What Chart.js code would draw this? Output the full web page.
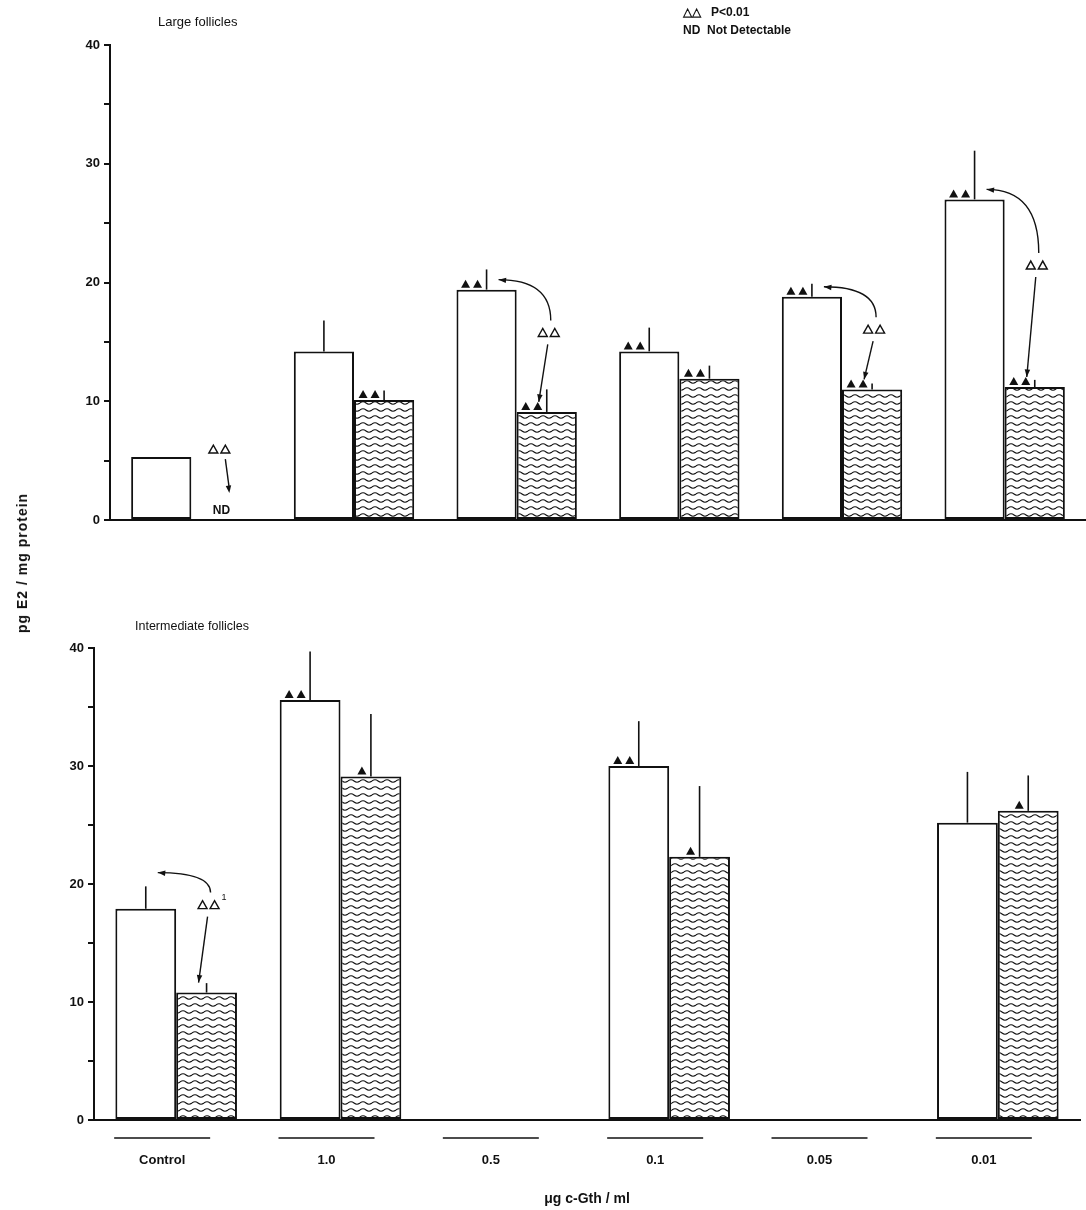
<!DOCTYPE html>
<html>
<head>
<meta charset="utf-8">
<script src="https://cdn.jsdelivr.net/npm/chart.js@4.4.1/dist/chart.umd.min.js"></script>
<style>
body{margin:0;background:#fff;width:1086px;height:1210px;position:relative;overflow:hidden;font-family:"Liberation Sans",Arial,sans-serif;color:#111}
.txt{position:absolute;white-space:nowrap}
#largeChart{position:absolute;left:0;top:0}
#interChart{position:absolute;left:0;top:560px}
#ytitle{position:absolute;left:22px;top:563px;transform:translate(-50%,-50%) rotate(-90deg);font-size:14px;font-weight:bold;letter-spacing:1px;white-space:nowrap}
</style>
</head>
<body>
<canvas id="largeChart" width="1086" height="545"></canvas>
<canvas id="interChart" width="1086" height="650"></canvas>
<div class="txt" style="left:158px;top:14px;font-size:13px">Large follicles</div>
<div class="txt" style="left:135px;top:619px;font-size:12.5px">Intermediate follicles</div>
<div class="txt" style="left:683px;top:5px;font-size:12px;font-weight:bold">△△&nbsp;&nbsp;&nbsp;P&lt;0.01</div>
<div class="txt" style="left:683px;top:23px;font-size:12px;font-weight:bold">ND&nbsp;&nbsp;Not Detectable</div>
<div id="ytitle">pg E2 / mg protein</div>
<script>
const categories=["Control","1.0","0.5","0.1","0.05","0.01"]
const yTicks=[0,10,20,30,40]

// large follicles (open bars / hatched bars, value and upper SE)
const largeOpen=[5.3,14.2,19.4,14.2,18.8,27.0]
const largeOpenSE=[0,2.6,1.7,2.0,1.1,4.1]
const largeHatched=[null,10.1,9.1,11.9,11.0,11.2]
const largeHatchedSE=[0,0.8,1.9,1.1,0.5,0.6]
const largeOpenMarks=["","","▲▲","▲▲","▲▲","▲▲"]
const largeHatchedMarks=["","▲▲","▲▲","▲▲","▲▲","▲▲"]
// "." = open/hatched compared with P<0.01, other text = footnote
const largeCompare=[".","",".","",".","."]

// intermediate follicles
const interOpen=[17.9,35.6,null,30.0,null,25.2]
const interOpenSE=[1.9,4.1,0,3.8,0,4.3]
const interHatched=[10.8,29.1,null,22.3,null,26.2]
const interHatchedSE=[0.8,5.3,0,6.0,0,3.0]
const interOpenMarks=["","▲▲","","▲▲","",""]
const interHatchedMarks=["","▲","","▲","","▲"]
const interCompare=["1","","","","",""]

const ink="#111"

function wavePattern(){
const p=document.createElement("canvas")
p.width=12;p.height=7
const g=p.getContext("2d")
g.fillStyle="#fff";g.fillRect(0,0,12,7)
g.strokeStyle=ink;g.lineWidth=1.1
g.beginPath()
g.moveTo(0,4)
g.quadraticCurveTo(3,1.5,6,4)
g.quadraticCurveTo(9,6.5,12,4)
g.stroke()
return g.createPattern(p,"repeat")
}

function tri(c,x,y,filled){
c.beginPath()
c.moveTo(x-4.5,y)
c.lineTo(x+4.5,y)
c.lineTo(x,y-8)
c.closePath()
if(filled){c.fill()}else{c.lineWidth=1.4;c.stroke()}
}

function arrowHead(c,x1,y1,x2,y2){
const a=Math.atan2(y2-y1,x2-x1)
c.beginPath()
c.moveTo(x2,y2)
c.lineTo(x2-8*Math.cos(a-0.35),y2-8*Math.sin(a-0.35))
c.lineTo(x2-8*Math.cos(a+0.35),y2-8*Math.sin(a+0.35))
c.closePath()
c.fill()
}

const marksPlugin={
id:"marks",
afterDatasetsDraw(chart,args,o){
const c=chart.ctx
const y=chart.scales.y
const openEls=chart.getDatasetMeta(0).data
c.save()
c.strokeStyle=ink
c.fillStyle=ink

categories.forEach((cat,i)=>{
const ox=openEls[i].x
const w=openEls[i].width
const hx=ox+w
const bars=[[ox,o.open[i],o.openSE[i],o.openMarks[i]],[hx,o.hatched[i],o.hatchedSE[i],o.hatchedMarks[i]]]

bars.forEach(b=>{
const [x,v,se,mk]=b
if(v==null)return
const top=y.getPixelForValue(v)
if(se>0){
c.lineWidth=1.6
c.beginPath();c.moveTo(x,top);c.lineTo(x,y.getPixelForValue(v+se));c.stroke()
}
const n=[...mk].length
for(let k=0;k<n;k++){
tri(c,x-9-k*12,top-2,true)
}
})

if(!o.compare[i])return
const base=y.getPixelForValue(0)
const oTop=y.getPixelForValue(o.open[i])
if(o.hatched[i]==null){
// not detectable
const tx=ox+w/2+22, ty=oTop-4
tri(c,tx,ty,false);tri(c,tx+12,ty,false)
c.lineWidth=1.4
c.beginPath();c.moveTo(tx+12,ty+6);c.lineTo(tx+16,ty+36);c.stroke()
arrowHead(c,tx+12,ty+6,tx+16,ty+40)
c.font="bold 12px 'Liberation Sans', Arial, sans-serif"
c.textAlign="center";c.textBaseline="bottom"
c.fillText("ND",hx,base-3)
return
}
const hTop=y.getPixelForValue(o.hatched[i])
const ly=Math.min(oTop+(hTop-oTop)*o.labelFrac,hTop-40)
const lx=hx-4
tri(c,lx,ly+4,false);tri(c,lx+12,ly+4,false)
if(o.compare[i]!="."){
c.font="9px 'Liberation Sans', Arial, sans-serif"
c.textAlign="left";c.textBaseline="bottom"
c.fillText(o.compare[i],lx+19,ly-3)
}
c.lineWidth=1.4
// curve back to open bar
const sx=lx+8,sy=ly-12
const ex=ox+12,ey=Math.min(oTop-10,sy-20)
c.beginPath();c.moveTo(sx,sy);c.quadraticCurveTo(sx,ey,ex,ey);c.stroke()
arrowHead(c,ex+10,ey+1,ex,ey)
// line down to hatched bar
const dx=lx+5,dy=ly+12
const fx=hx-8,fy=hTop-10
c.beginPath();c.moveTo(dx,dy);c.lineTo(fx,fy);c.stroke()
arrowHead(c,dx,dy,fx,fy)
})

if(o.underline){
const xs=chart.scales.x
c.lineWidth=1.5
categories.forEach((cat,i)=>{
const cx=xs.getPixelForTick(i)+o.labelShift
c.beginPath();c.moveTo(cx-48,xs.top+18);c.lineTo(cx+48,xs.top+18);c.stroke()
})
}
c.restore()
}
}

function makeChart(id,open,hatched,opts,axisWidth,padTop,padBottom,xAxis){
return new Chart(document.getElementById(id),{
type:"bar",
data:{
labels:categories,
datasets:[{
data:open,
backgroundColor:"#fff",
borderColor:ink,
borderWidth:2,
borderSkipped:false,
categoryPercentage:0.74,
barPercentage:1
},{
data:hatched,
backgroundColor:wavePattern(),
borderColor:ink,
borderWidth:2,
borderSkipped:false,
categoryPercentage:0.74,
barPercentage:1
}]
},
options:{
responsive:false,
animation:false,
layout:{padding:{top:padTop,bottom:padBottom,right:opts.underline?6:0,left:0}},
plugins:{legend:{display:false},tooltip:{enabled:false},marks:opts},
scales:{
x:xAxis,
y:{
min:0,max:40,
afterFit(s){s.width=axisWidth},
border:{display:true,color:ink,width:2},
grid:{drawOnChartArea:false,drawTicks:true,tickLength:6,color:ink,lineWidth:2},
ticks:{
stepSize:5,
color:ink,
padding:4,
font:{family:"'Liberation Sans', Arial, sans-serif",size:13,weight:"bold"},
callback:v=>yTicks.includes(v)?v:""
}
}
}
},
plugins:[marksPlugin]
})
}

makeChart("largeChart",largeOpen,largeHatched,{
open:largeOpen,openSE:largeOpenSE,hatched:largeHatched,hatchedSE:largeHatchedSE,
openMarks:largeOpenMarks,hatchedMarks:largeHatchedMarks,compare:largeCompare,
labelFrac:0.35,underline:false
},110,45,25,{
border:{display:true,color:ink,width:2},
grid:{display:true,drawOnChartArea:false,drawTicks:false},
ticks:{display:false}
})

makeChart("interChart",interOpen,interHatched,{
open:interOpen,openSE:interOpenSE,hatched:interHatched,hatchedSE:interHatchedSE,
openMarks:interOpenMarks,hatchedMarks:interHatchedMarks,compare:interCompare,
labelFrac:-0.05,underline:true,labelShift:-14
},94,88,0,{
afterFit(s){s.height=90},
border:{display:true,color:ink,width:2},
grid:{display:true,drawOnChartArea:false,drawTicks:false},
ticks:{
color:ink,
padding:33,
labelOffset:-14,
font:{family:"'Liberation Sans', Arial, sans-serif",size:13,weight:"bold"}
},
title:{
display:true,
text:"μg c-Gth / ml",
color:ink,
padding:{top:4,bottom:2},
font:{family:"'Liberation Sans', Arial, sans-serif",size:14,weight:"bold"}
}
})
</script>
</body>
</html>
